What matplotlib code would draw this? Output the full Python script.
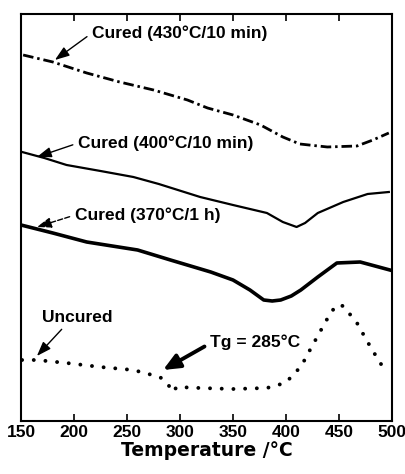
import matplotlib.pyplot as plt

plt.rcParams['font.family'] = ['Liberation Sans', 'DejaVu Sans']

# DSC traces (heat flow in arbitrary units)
t_430 = [152, 180, 212, 243, 275, 307, 326, 350, 376, 397, 413, 439, 467, 482, 497]
h_430 = [419, 412, 401, 392, 384, 374, 366, 359, 349, 337, 330, 327, 328, 334, 341]

t_400 = [151, 172, 193, 225, 256, 280, 307, 319, 350, 382, 397, 410, 418, 430, 454, 477, 497]
h_400 = [322, 316, 309, 303, 297, 290, 281, 277, 269, 261, 252, 247, 251, 261, 272, 280, 282]

t_370 = [150, 180, 212, 260, 291, 329, 350, 366, 379, 387, 395, 405, 414, 430, 448, 470, 498]
h_370 = [249, 241, 232, 224, 214, 202, 194, 184, 174, 173, 174, 178, 184, 197, 211, 212, 204]

t_unc = [151, 165, 193, 225, 256, 281, 288, 293, 297, 319, 350, 382, 399, 407, 415, 420, 432, 442, 448, 454, 467, 477, 486, 492]
h_unc = [114, 114, 111, 107, 104, 97, 91, 82, 87, 86, 85, 86, 91, 99, 109, 119, 142, 161, 169, 168, 151, 132, 116, 106]

x_ticks = [150, 200, 250, 300, 350, 400, 450, 500]

fig = plt.figure(figsize=(4.06, 4.74), dpi=100)
ax = fig.add_axes([0.0517, 0.1118, 0.9138, 0.8587])

ax.plot(t_430, h_430, color='black', lw=2.0, linestyle=(0, (3.8, 1.4, 0.9, 1.4)))
ax.plot(t_400, h_400, color='black', lw=1.6)
ax.plot(t_370, h_370, color='black', lw=2.6)
ax.plot(t_unc, h_unc, color='black', lw=2.8, linestyle=(0, (0.01, 3.0)),
        dash_capstyle='round')

thin = dict(arrowstyle='-|>,head_length=0.7,head_width=0.25', color='black',
            lw=1.0, shrinkA=2, shrinkB=0, relpos=(0, 0.5))
txt = dict(fontsize=12.5, fontweight='bold', ha='left', va='center')

ax.annotate('Cured (430°C/10 min)', xy=(182, 414), xytext=(217, 441),
            arrowprops=thin, **txt)
ax.annotate('Cured (400°C/10 min)', xy=(165, 317), xytext=(204, 331),
            arrowprops=thin, **txt)
ax.annotate('Cured (370°C/1 h)', xy=(165, 247), xytext=(201, 259),
            arrowprops=dict(thin, linestyle='--'), **txt)
ax.annotate('Uncured', xy=(165, 118), xytext=(170, 157),
            arrowprops=dict(thin, relpos=(0.34, 0)), **txt)
ax.annotate('Tg = 285°C', xy=(284, 104), xytext=(328, 132),
            arrowprops=dict(arrowstyle='-|>,head_length=0.8,head_width=0.35',
                            color='black', lw=2.8, shrinkA=2, shrinkB=0,
                            relpos=(0, 0.4)), **txt)

ax.set_xlim(150, 500)
ax.set_ylim(53, 460)
ax.set_xticks(x_ticks)
ax.set_yticks([])
ax.tick_params(axis='x', direction='in', top=True, length=5, width=1.2, pad=3,
               labelsize=12.5)
for lab in ax.get_xticklabels():
    lab.set_fontweight('bold')
for s in ax.spines.values():
    s.set_linewidth(1.5)
ax.set_xlabel('Temperature /°C', fontsize=13.5, fontweight='bold',
              family='DejaVu Sans', labelpad=0.5)

fig.savefig('out.png', dpi=100)
